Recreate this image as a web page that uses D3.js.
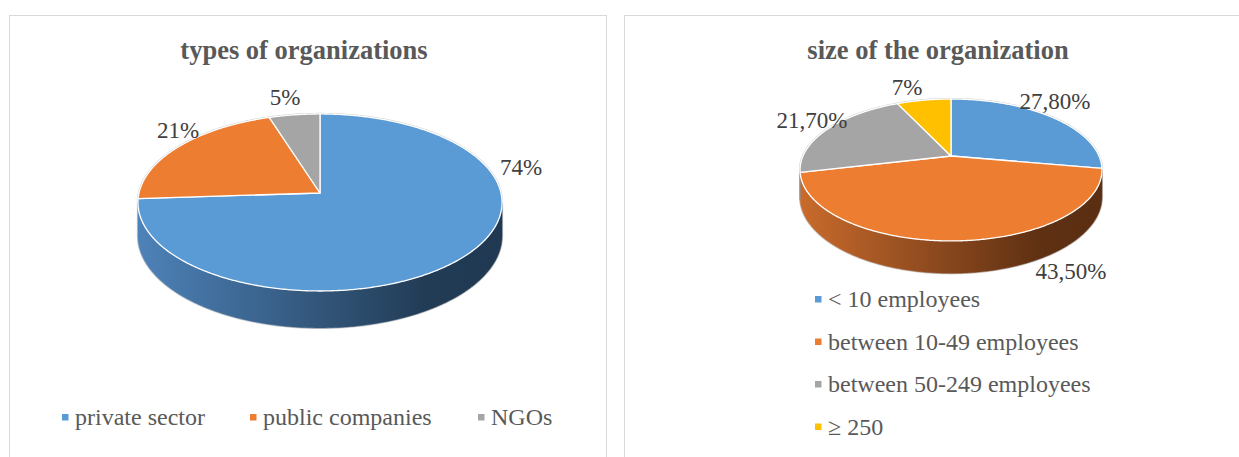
<!DOCTYPE html>
<html>
<head>
<meta charset="utf-8">
<script src="https://cdn.jsdelivr.net/npm/d3@7"></script>
<style>
  html, body { margin: 0; padding: 0; background: #fff; }
  svg { display: block; }
  svg text { font-family: "Liberation Serif", "Times New Roman", Times, "DejaVu Serif", serif; }
</style>
</head>
<body>
<svg id="chart" width="1239" height="457"></svg>
<script>
// ---- data ----
const typesTitle = "types of organizations";
const typesCategories = ["private sector", "public companies", "NGOs"];
const typesValues = [74, 21, 5];
const typesLabels = ["74%", "21%", "5%"];

const sizeTitle = "size of the organization";
const sizeCategories = ["< 10 employees", "between 10-49 employees", "between 50-249 employees", "≥ 250"];
const sizeValues = [27.8, 43.5, 21.7, 7];
const sizeLabels = ["27,80%", "43,50%", "21,70%", "7%"];

const palette = ["#5b9bd5", "#ed7d31", "#a5a5a5", "#ffc000"];
// side-wall shading: light edge on the left, dark edge on the right
const sideLight = ["#4e83ba", "#c96b2c", "#8c8c8c", "#d9a300"];
const sideDark = ["#203851", "#5a2e12", "#474747", "#6b5200"];

const svg = d3.select("#chart");
const defs = svg.append("defs");

// ---- panel frames ----
svg.append("rect").attr("x", 9.5).attr("y", 15.5).attr("width", 597).attr("height", 470)
  .attr("fill", "#fff").attr("stroke", "#d9d9d9").attr("stroke-width", 1);
svg.append("rect").attr("x", 624.5).attr("y", 15.5).attr("width", 640).attr("height", 470)
  .attr("fill", "#fff").attr("stroke", "#d9d9d9").attr("stroke-width", 1);

function drawPie3D(opts) {
  const { id, cx, cy, rx, ry, p, depth, values, labels, labelOffsets, fontSize } = opts;
  const g = svg.append("g");
  const color = d3.scaleOrdinal().domain(d3.range(values.length)).range(palette);
  const light = d3.scaleOrdinal().domain(d3.range(values.length)).range(sideLight);
  const dark = d3.scaleOrdinal().domain(d3.range(values.length)).range(sideDark);
  const arcs = d3.pie().sort(null).value(d => d)(values);

  // perspective projection of a point on the tilted disc (angle from 12 o'clock, clockwise)
  const proj = (a, r = 1) => {
    const u = r * Math.sin(a), v = r * Math.cos(a);
    const s = 1 / (1 + p * v);
    return [cx + rx * u * s, cy - ry * v * s, s];
  };
  const sample = (a0, a1) => {
    const n = Math.max(2, Math.ceil(Math.abs(a1 - a0) / 0.01));
    return d3.range(n + 1).map(i => a0 + (a1 - a0) * i / n);
  };

  // horizontal gradients for the sides
  arcs.forEach((d, i) => {
    const gr = defs.append("linearGradient").attr("id", `${id}-side-${i}`)
      .attr("gradientUnits", "userSpaceOnUse")
      .attr("x1", cx - rx * 1.03).attr("x2", cx + rx * 1.03).attr("y1", 0).attr("y2", 0);
    const mid = d3.interpolateRgb(light(i), dark(i));
    gr.append("stop").attr("offset", 0).attr("stop-color", light(i));
    gr.append("stop").attr("offset", 0.45).attr("stop-color", mid(0.55));
    gr.append("stop").attr("offset", 0.78).attr("stop-color", mid(0.95));
    gr.append("stop").attr("offset", 1).attr("stop-color", dark(i));
  });

  // visible part of the rim lies between the two silhouette angles
  const visA0 = Math.acos(-p), visA1 = 2 * Math.PI - Math.acos(-p);
  const line = d3.line();

  // outer silhouette outline
  const rimAngles = sample(visA0, visA1);
  const bottomPts = rimAngles.map(a => { const q = proj(a); return [q[0], q[1] + depth * q[2]]; });
  const farPts = sample(visA1, visA0 + 2 * Math.PI).map(a => proj(a));
  g.append("path")
    .attr("d", line(bottomPts.concat(farPts.map(q => [q[0], q[1]]))) + "Z")
    .attr("fill", "none").attr("stroke", "#cfcfcf").attr("stroke-width", 2.2);

  // side walls
  arcs.forEach((d, i) => {
    const a0 = Math.max(d.startAngle, visA0), a1 = Math.min(d.endAngle, visA1);
    if (a1 <= a0) return;
    const angles = sample(a0, a1);
    const top = angles.map(a => proj(a));
    const bot = angles.slice().reverse().map(a => { const q = proj(a); return [q[0], q[1] + depth * q[2]]; });
    g.append("path")
      .attr("d", line(top.map(q => [q[0], q[1]]).concat(bot)) + "Z")
      .attr("fill", `url(#${id}-side-${i})`)
      .attr("stroke", `url(#${id}-side-${i})`).attr("stroke-width", 0.6);
  });

  // top faces
  arcs.forEach((d, i) => {
    const pts = [[cx, cy]].concat(sample(d.startAngle, d.endAngle).map(a => proj(a).slice(0, 2)));
    g.append("path")
      .attr("d", line(pts) + "Z")
      .attr("fill", color(i))
      .attr("stroke", "#ffffff").attr("stroke-width", 1.3).attr("stroke-linejoin", "round");
  });

  // data labels
  arcs.forEach((d, i) => {
    g.append("text")
      .attr("x", cx + labelOffsets[i][0]).attr("y", cy + labelOffsets[i][1])
      .attr("text-anchor", "middle").attr("dominant-baseline", "central")
      .attr("font-size", fontSize).attr("fill", "#404040")
      .text(labels[i]);
  });
}

function drawTitle(text, x, y) {
  svg.append("text").attr("x", x).attr("y", y)
    .attr("text-anchor", "middle")
    .attr("font-weight", "bold").attr("font-size", 26.5).attr("fill", "#595959")
    .text(text);
}

function drawLegendItem(text, i, x, y) {
  const color = d3.scaleOrdinal().domain(d3.range(palette.length)).range(palette);
  svg.append("rect").attr("x", x).attr("y", y - 3).attr("width", 6.5).attr("height", 6.5)
    .attr("fill", color(i));
  svg.append("text").attr("x", x + 13).attr("y", y)
    .attr("dominant-baseline", "central")
    .attr("font-size", 24).attr("fill", "#595959")
    .text(text);
}

// ---- left chart ----
drawTitle(typesTitle, 304, 59);
drawPie3D({
  id: "types", cx: 320, cy: 193, rx: 181, ry: 87.5, p: 0.107, depth: 33,
  values: typesValues, labels: typesLabels, fontSize: 23,
  labelOffsets: [[201, -26], [-142, -63], [-35, -96]]
});
const typesLegendX = [62, 250, 478];
typesCategories.forEach((c, i) => drawLegendItem(c, i, typesLegendX[i], 417));

// ---- right chart ----
drawTitle(sizeTitle, 938, 59);
drawPie3D({
  id: "size", cx: 951, cy: 156, rx: 148, ry: 68.2, p: 0.197, depth: 26,
  values: sizeValues, labels: sizeLabels, fontSize: 23,
  labelOffsets: [[104, -55], [120, 115], [-139, -36], [-44, -69]]
});
sizeCategories.forEach((c, i) => drawLegendItem(c, i, 815, 299 + i * 42.5));
</script>
</body>
</html>
